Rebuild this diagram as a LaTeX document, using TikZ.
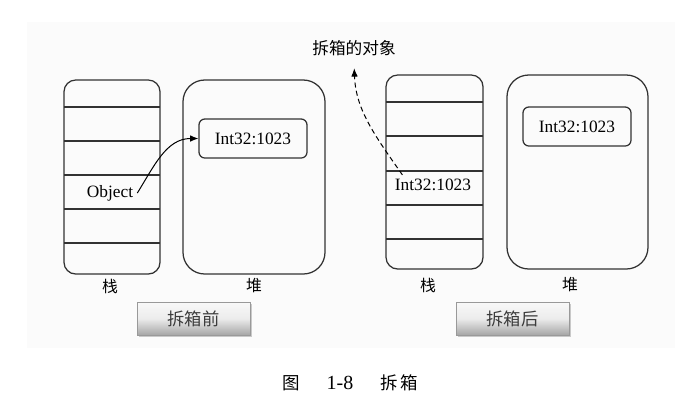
\documentclass[tikz,border=0pt]{standalone}
\usepackage{fontspec}
\setmainfont{Liberation Serif}
\newfontfamily\cjk{Noto Sans CJK SC}
\usepackage{tikz}
\usetikzlibrary{positioning, arrows.meta, fit, shadows, calc}
\definecolor{BgGray}{RGB}{251,251,251}
\definecolor{LineGray}{RGB}{50,50,50}
\definecolor{BtnText}{RGB}{60,60,60}

\begin{document}
\begin{tikzpicture}[x=0.6pt, y=-0.6pt,
          mem/.style={draw=LineGray, line width=0.75pt, inner sep=0pt},
          stackbox/.style={mem, rounded corners=7pt},
          heapbox/.style={mem, rounded corners=13pt},
          valbox/.style={draw=LineGray, line width=0.75pt, rounded corners=3.5pt,
                         minimum width=64.8pt, minimum height=23.4pt,
                         font=\fontsize{10.4}{12}\selectfont},
          val/.style={font=\fontsize{10.4}{12}\selectfont},
          lbl/.style={font=\cjk\fontsize{9.5}{11}\selectfont},
          btn/.style={draw=gray!80, top color=gray!5, bottom color=gray!70,
                      middle color=gray!15,
                      minimum width=67.8pt, minimum height=19.8pt,
                      drop shadow={shadow xshift=1.2pt, shadow yshift=-1.2pt, opacity=0.4},
                      font=\cjk\fontsize{10.4}{12}\selectfont, text=BtnText},
          arr/.style={-{Latex[length=5pt, width=4pt]}, line width=0.6pt},
          darr/.style={arr, dashed, dash pattern=on 3pt off 2pt}
        ]
        \useasboundingbox (0,0) rectangle (697,409);
        \fill[BgGray] (27,22) rectangle (675,348);

        % Before unboxing: stack
        \node[stackbox, fit={(64,80) (160,274)}] (lstack) {};
        \foreach \y in {107,141,175,209,243}
          \draw[LineGray, line width=0.75pt] (64,\y) -- (160,\y);
        \node[val] (lobj) at (110,193) {Object};

        % Before unboxing: heap
        \node[heapbox, fit={(183,80) (325,274)}] (lheap) {};
        \node[valbox] (lval) at (253,138.5) {Int32:1023};
        \draw[arr] ([xshift=-1pt]lobj.east) to[out=58, in=180] (lval.west);

        \node[lbl] (lslab) at (110,286) {栈};
        \node[lbl] (lhlab) at (254,286) {堆};
        \node[btn] (before) at (193.5,318.5) {拆箱前};

        % After unboxing: stack
        \node[stackbox, fit={(386,75) (483,269)}] (rstack) {};
        \foreach \y in {102,136,171,205,239}
          \draw[LineGray, line width=0.75pt] (386,\y) -- (483,\y);
        \node[val] (rint) at (433,185) {Int32:1023};

        % After unboxing: heap
        \node[heapbox, fit={(507,75) (648,269)}] (rheap) {};
        \node[valbox] (rval) at (577,126.5) {Int32:1023};

        \node[lbl] (rslab) at (428,285) {栈};
        \node[lbl] (rhlab) at (570,285) {堆};
        \node[btn] (after) at (512.5,318.5) {拆箱后};

        % Unboxed object
        \node[lbl, font=\cjk\fontsize{10}{12}\selectfont] (obj) at (354,48) {拆箱的对象};
        \draw[darr, shorten >=4pt] ([xshift=8pt, yshift=-1pt]rint.north west)
              to[out=125, in=-88] (obj.south);

        % Caption
        \node[font=\cjk\fontsize{10.5}{12}\selectfont] (capfig) at (291.5,383) {图};
        \node[font=\fontsize{12}{14}\selectfont] (capnum) at (340,383) {1-8};
        \node[font=\cjk\fontsize{10.5}{12}\selectfont] (captxt) at (399,383) {拆\,箱};
      \end{tikzpicture}
\end{document}
